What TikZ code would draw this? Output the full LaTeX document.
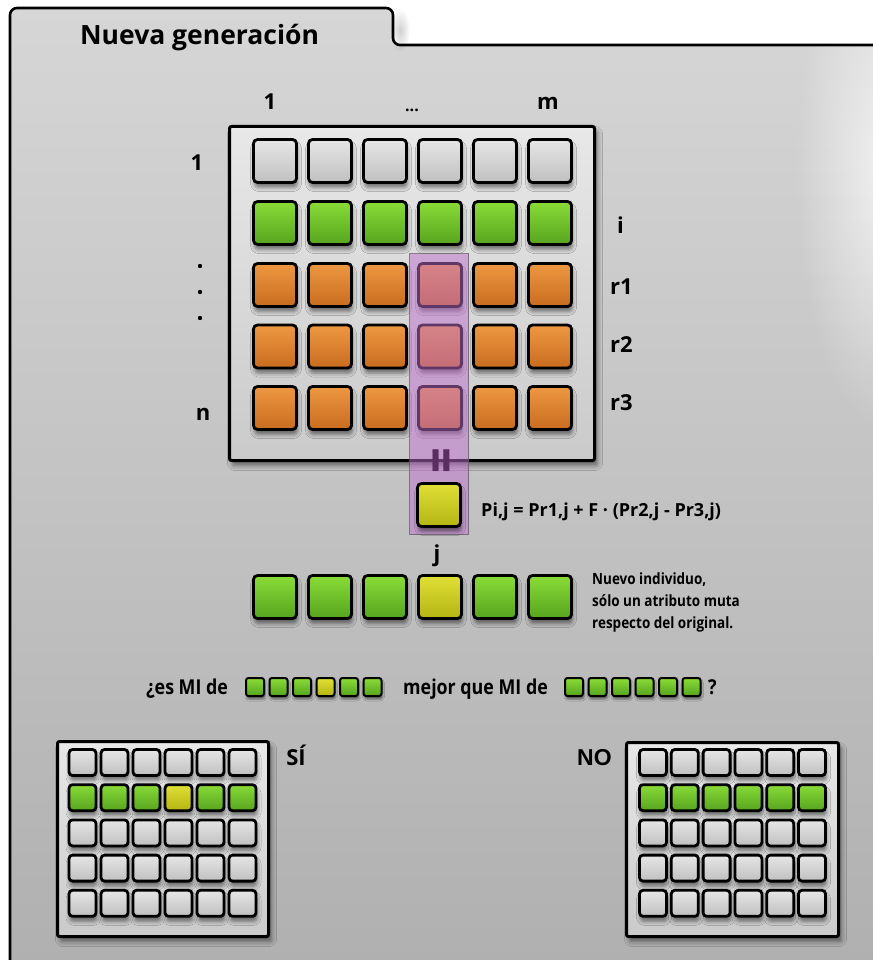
\documentclass[tikz,border=0pt]{standalone}
\usepackage{fontspec}
\setmainfont{Open Sans}
\newfontfamily\condf[FakeStretch=0.87]{Open Sans}
\newfontfamily\arialf{Liberation Sans}
\usetikzlibrary{shadows.blur,fadings}
\definecolor{bgtop}{HTML}{D6D6D6}
\definecolor{bgbot}{HTML}{B0B0B0}
\definecolor{grtop}{HTML}{E6E6E6}
\definecolor{grbot}{HTML}{C0C0C0}
\definecolor{gntop}{HTML}{8ADC38}
\definecolor{gnbot}{HTML}{56A41E}
\definecolor{ortop}{HTML}{EE9842}
\definecolor{orbot}{HTML}{C86C1E}
\definecolor{yetop}{HTML}{E0E036}
\definecolor{yebot}{HTML}{B4B414}
\definecolor{frtop}{HTML}{E8E8E8}
\definecolor{frbot}{HTML}{CACACA}
\definecolor{purp}{HTML}{C070CE}
\definecolor{dpurp}{HTML}{5B2D63}
\tikzfading[name=glowfade, inner color=transparent!0, outer color=transparent!100]
\tikzset{
  sh/.style={blur shadow={shadow xshift=1pt, shadow yshift=-5pt, shadow blur radius=4pt, shadow opacity=50}},
  cellbase/.style={draw=black, line width=2.8pt, rounded corners=4pt, minimum width=43pt, minimum height=43pt, inner sep=0pt, sh},
  scell/.style={draw=black, line width=2.8pt, rounded corners=3.5pt, minimum width=27pt, minimum height=26pt, inner sep=0pt, sh},
  qcell/.style={draw=black, line width=2pt, rounded corners=2.5pt, minimum width=18pt, minimum height=18pt, inner sep=0pt, blur shadow={shadow xshift=1pt, shadow yshift=-3pt, shadow blur radius=2pt, shadow opacity=50}},
  cgray/.style={top color=grtop, bottom color=grbot},
  cgreen/.style={top color=gntop, bottom color=gnbot},
  corange/.style={top color=ortop, bottom color=orbot},
  cyellow/.style={top color=yetop, bottom color=yebot},
  framebox/.style={draw=black, line width=3pt, rounded corners=2pt, top color=frtop, bottom color=frbot, inner sep=0pt, blur shadow={shadow xshift=3pt, shadow yshift=-5pt, shadow blur radius=5pt, shadow opacity=50}},
  lbl/.style={font=\bfseries\fontsize{22}{26}\selectfont, inner sep=0pt},
  txt/.style={font=\condf\bfseries\fontsize{15.5}{18}\selectfont, inner sep=0pt, anchor=base west},
  qtxt/.style={font=\condf\bfseries\fontsize{20.5}{22}\selectfont, inner sep=0pt, anchor=base west},
}
\begin{document}
\begin{tikzpicture}[x=1pt,y=-1pt]
\useasboundingbox (0,0) rectangle (872,960);
\fill[white] (0,0) rectangle (872,960);
% background panel
\shade[top color=bgtop, bottom color=bgbot, rounded corners=7pt] (10,965) -- (10,8) -- (393,8) -- (393,45) -- (880,45) -- (880,965) -- cycle;
\fill[white, opacity=0.7, path fading=glowfade] (885,170) ellipse (90 and 260);
\fill[black, opacity=0.18, path fading=glowfade] (400,30) ellipse (10 and 22);
\draw[line width=2.6pt, rounded corners=7pt] (10,965) -- (10,8) -- (393,8) -- (393,45) -- (880,45);
\node[anchor=base west, font=\bfseries\fontsize{26.5}{30}\selectfont, inner sep=0pt] (title) at (80,45) {Nueva generación};

% main matrix
\node[framebox, minimum width=365pt, minimum height=334pt] (mframe) at (412,293.5) {};
\foreach \c in {1,...,6} {
  \node[cellbase, cgray] (m-1-\c) at ({275+55*(\c-1)},161) {};
  \node[cellbase, cgreen] (m-2-\c) at ({275+55*(\c-1)},223) {};
  \node[cellbase, corange] (m-3-\c) at ({275+55*(\c-1)},285) {};
  \node[cellbase, corange] (m-4-\c) at ({275+55*(\c-1)},346.5) {};
  \node[cellbase, corange] (m-5-\c) at ({275+55*(\c-1)},408) {};
}
% column / row labels
\node[lbl, anchor=base] (col1) at (270,110) {1};
\node[lbl, anchor=base, font=\bfseries\fontsize{16}{20}\selectfont] (coldots) at (412,112) {...};
\node[lbl, anchor=base] (colm) at (548,110) {m};
\node[lbl, anchor=base] (row1) at (197,171) {1};
\node[lbl, anchor=base] (rown) at (203,420) {n};
\fill (200,266) circle (2.2);
\fill (200,292) circle (2.2);
\fill (200,318) circle (2.2);
\node[lbl, anchor=base west] (ri) at (617,233) {i};
\node[lbl, anchor=base west] (rr1) at (610,294) {r1};
\node[lbl, anchor=base west] (rr2) at (610,352) {r2};
\node[lbl, anchor=base west] (rr3) at (610,410) {r3};

% purple column
\node[draw=black!65, draw opacity=0.7, line width=1.5pt, fill=purp, fill opacity=0.5, minimum width=59pt, minimum height=281pt, inner sep=0pt] (pcol) at (439,394) {};
\node[font=\bfseries\fontsize{30}{30}\selectfont, text=dpurp, rotate=90, xscale=1.5, yscale=1.9, inner sep=0pt] (eq) at (447,461) {=};
\node[cellbase, cyellow] (pij) at (439,505) {};
\node[anchor=base west, font=\bfseries\fontsize{18}{22}\selectfont, inner sep=0pt] (formula) at (481,516) {Pi,j = Pr1,j + F · (Pr2,j - Pr3,j)};

% new individual
\node[lbl, anchor=base] (jlab) at (437,561) {j};
\node[lbl, anchor=base] (ilab) at (255,612) {i};
\foreach \c in {1,...,6} {
  \ifnum\c=4
    \node[cellbase, cyellow] (n-\c) at ({275+55*(\c-1)},597) {};
  \else
    \node[cellbase, cgreen] (n-\c) at ({275+55*(\c-1)},597) {};
  \fi
}
\node[txt] (nuevo1) at (592,584) {Nuevo individuo,};
\node[txt] (nuevo2) at (592,606) {sólo un atributo muta};
\node[txt] (nuevo3) at (592,628) {respecto del original.};

% question row
\node[qtxt] (q1) at (146,694) {¿es MI de};
\foreach \c in {1,...,6} {
  \ifnum\c=4
    \node[qcell, cyellow] (qa-\c) at ({255+23.5*(\c-1)},687) {};
  \else
    \node[qcell, cgreen] (qa-\c) at ({255+23.5*(\c-1)},687) {};
  \fi
  \node[qcell, cgreen] (qb-\c) at ({574+23.5*(\c-1)},687) {};
}
\node[qtxt] (q2) at (403,694) {mejor que MI de};
\node[qtxt] (q3) at (708,694) {?};

% SI matrix
\node[framebox, minimum width=211pt, minimum height=195pt] (siframe) at (163,839) {};
\foreach \r in {1,...,5} {
  \foreach \c in {1,...,6} {
    \pgfmathtruncatemacro{\isg}{\r==2 ? 1 : 0}
    \pgfmathtruncatemacro{\isy}{(\r==2 && \c==4) ? 1 : 0}
    \ifnum\isy=1
      \node[scell, cyellow] (s-\r-\c) at ({82.5+32*(\c-1)},{762.5+35.2*(\r-1)}) {};
    \else\ifnum\isg=1
      \node[scell, cgreen] (s-\r-\c) at ({82.5+32*(\c-1)},{762.5+35.2*(\r-1)}) {};
    \else
      \node[scell, cgray] (s-\r-\c) at ({82.5+32*(\c-1)},{762.5+35.2*(\r-1)}) {};
    \fi\fi
  }
}
\node[lbl, anchor=base, font=\bfseries\fontsize{22}{24}\selectfont] (si) at (296,765) {SÍ};

% NO matrix
\node[framebox, minimum width=212pt, minimum height=194pt] (noframe) at (732.5,839.5) {};
\foreach \r in {1,...,5} {
  \foreach \c in {1,...,6} {
    \ifnum\r=2
      \node[scell, cgreen] (o-\r-\c) at ({653+31.8*(\c-1)},{762.5+35.2*(\r-1)}) {};
    \else
      \node[scell, cgray] (o-\r-\c) at ({653+31.8*(\c-1)},{762.5+35.2*(\r-1)}) {};
    \fi
  }
}
\node[anchor=base west, inner sep=0pt, font=\arialf\bfseries\fontsize{23}{26}\selectfont] (no) at (577,765) {NO};
\end{tikzpicture}
\end{document}
